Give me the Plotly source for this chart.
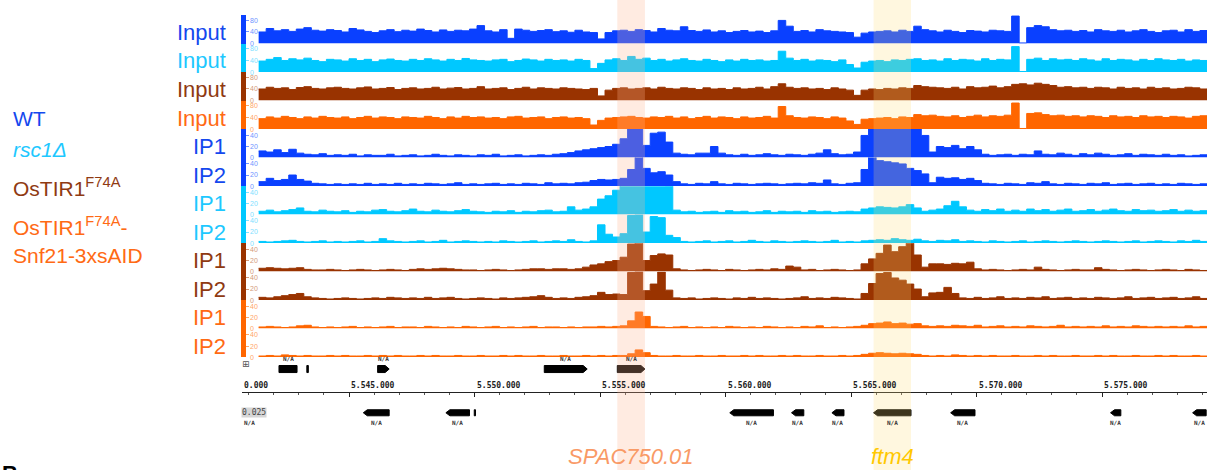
import plotly.graph_objects as go

# ---------------- data ----------------
BIN_START = 5541400
BIN_STEP = 300
N_BINS = 127
positions = [BIN_START + BIN_STEP * i for i in range(N_BINS)]

wt_input = [40,52,44,48,42,50,55,46,43,48, 45,40,52,47,42,38,44,48,41,46,
            43,50,45,40,47,42,46,44,50,62, 44,40,48,18,50,46,42,45,48,41,
            44,39,46,40,38,16,38,44,46,42, 48,45,40,52,46,44,58,45,42,47,
            40,44,38,42,45,40,43,38,44,80, 60,42,45,40,48,44,42,40,38,22,
            36,40,42,44,40,46,42,60,48,44, 40,46,42,38,45,43,40,46,44,42,
            95,2,55,62,58,48,44,46,42,45, 40,48,44,42,46,40,44,48,42,38,
            44,46,40,48,42,45,40]
rsc1_input = [38,44,50,40,46,42,48,40,36,44, 42,38,46,40,44,36,42,45,40,38,
              44,40,46,42,38,44,40,47,42,40, 38,42,44,36,40,45,42,38,44,40,
              42,38,44,40,12,30,42,46,40,54, 44,48,40,44,38,42,46,40,38,44,
              40,36,42,38,44,40,42,38,40,72, 48,40,44,38,42,40,36,42,26,14,
              34,38,40,36,42,40,44,46,40,42, 38,46,40,44,42,38,46,40,44,42,
              88,2,44,48,40,46,42,44,40,46, 42,38,46,40,44,42,38,44,40,46,
              42,40,44,38,42,40,38]
ostir_input = [40,46,42,44,38,45,48,42,40,44, 46,42,40,44,47,40,42,45,38,42,
               44,40,42,46,40,43,45,40,42,48, 40,42,44,38,42,46,40,44,42,40,
               44,42,40,38,42,16,36,42,44,40, 42,44,40,46,42,40,44,42,38,44,
               40,42,38,44,40,42,46,40,48,58, 46,42,44,40,42,38,44,40,36,18,
               36,40,38,42,40,44,42,52,48,46, 44,42,46,40,48,44,46,50,44,48,
               56,58,54,60,56,52,46,48,44,46, 42,46,44,40,46,42,44,40,46,42,
               44,40,42,46,44,40,42]
snf21_input = [36,42,38,44,40,36,42,38,44,40, 38,42,36,40,44,38,42,40,36,42,
               40,38,44,40,36,42,38,44,40,42, 38,40,36,42,44,38,40,42,36,40,
               42,38,40,36,14,30,38,40,42,44, 40,38,42,40,44,38,42,36,40,44,
               38,42,40,36,42,38,40,44,38,78, 46,40,38,42,40,36,42,38,28,16,
               34,36,38,40,36,42,40,50,46,48, 44,42,46,40,44,48,42,46,44,48,
               90,2,54,56,50,46,48,44,46,42, 46,44,40,46,42,44,40,46,42,44,
               40,44,42,38,44,46,42]
wt_ip1 = [12,10,14,9,15,8,6,5,7,4, 5,4,6,3,5,4,4,6,3,4,
          5,3,4,6,4,3,5,4,3,5, 4,6,3,4,5,3,4,5,4,6,
          7,9,12,14,16,18,20,24,34,55, 56,22,44,46,28,8,6,5,8,8,
          20,8,5,4,6,4,5,7,5,4, 6,5,4,6,8,14,7,5,6,10,
          40,56,56,56,56,56,56,56,40,10, 20,18,22,16,20,14,6,4,5,6,
          4,6,5,12,6,5,8,6,4,7, 5,8,6,4,5,7,4,6,5,4,
          6,4,5,3,4,5,4]
wt_ip2 = [8,14,10,12,20,12,9,5,4,3, 4,3,4,3,5,3,4,3,5,3,
          4,3,5,4,3,4,6,3,4,3, 4,5,3,4,3,5,4,3,6,4,
          5,4,6,7,10,12,11,12,14,30, 54,32,24,26,20,8,4,3,5,4,
          8,4,3,5,4,3,4,5,4,3, 4,5,4,6,5,11,4,3,5,6,
          30,56,46,44,42,40,32,28,22,6, 16,14,15,12,14,10,5,4,3,5,
          4,3,6,5,8,4,3,5,4,3, 5,4,6,3,4,5,3,4,5,3,
          4,3,5,4,3,4,3]
rsc1_ip1 = [6,8,5,7,9,12,6,5,8,6, 5,7,4,6,5,8,9,6,5,7,
            10,6,5,8,6,5,7,9,6,5, 4,6,5,7,4,6,5,7,8,5,
            6,14,8,10,14,28,34,44,56,56, 56,56,56,56,52,8,5,6,4,5,
            6,4,7,5,6,4,5,7,4,6, 5,6,4,7,5,6,4,5,6,5,
            10,12,14,13,12,14,18,12,6,8, 10,16,24,14,8,6,9,7,10,6,
            8,6,10,7,9,6,8,10,6,7, 9,6,8,10,7,6,9,7,8,6,
            7,9,6,8,6,7,5]
rsc1_ip2 = [3,2,3,4,5,3,2,3,4,2, 3,2,3,4,2,3,8,4,3,2,
            3,4,2,3,5,2,3,4,3,2, 3,2,4,3,2,3,4,2,3,4,
            3,6,3,2,4,33,16,11,17,50, 52,20,48,46,14,10,3,2,3,4,
            2,3,4,2,3,5,3,2,4,3, 2,3,4,3,2,3,5,2,3,2,
            4,5,6,5,8,6,5,7,4,3, 5,4,6,3,4,3,2,4,3,2,
            3,4,2,3,4,3,2,3,4,3, 2,3,4,3,2,3,4,2,3,4,
            3,2,4,3,5,3,2]
ostir_ip1 = [6,7,6,5,6,7,4,3,3,4, 3,2,3,4,3,2,3,4,3,2,
             4,5,4,5,6,5,4,3,3,2, 3,4,3,2,3,4,5,5,4,5,
             5,4,5,8,12,14,18,20,26,50, 54,20,29,32,30,5,3,2,3,4,
             3,2,4,3,2,3,4,3,5,4, 10,8,3,4,2,3,4,3,2,3,
             14,23,33,48,36,45,52,30,8,14, 14,13,15,14,17,5,3,4,3,2,
             3,4,3,8,4,3,2,3,4,3, 3,7,4,3,2,3,4,3,2,3,
             4,3,2,4,3,2,3]
ostir_ip2 = [5,4,6,8,10,12,6,4,3,2, 3,4,3,2,3,4,3,5,4,3,
             4,3,5,3,4,5,3,2,3,4, 3,2,4,3,4,5,6,8,5,3,
             4,3,5,6,8,14,10,11,10,50, 52,17,29,51,18,4,3,4,2,3,
             4,3,2,4,3,5,3,4,3,2, 3,4,6,3,4,3,5,4,3,2,
             12,30,48,50,40,36,29,20,6,13, 14,23,12,4,3,5,3,4,6,3,
             4,3,5,4,6,3,4,5,3,4, 3,5,4,3,4,6,3,4,5,3,
             4,5,3,4,6,3,4]
snf21_ip1 = [3,4,3,2,3,5,6,3,2,3, 2,3,4,2,3,2,3,4,2,3,
             3,2,4,3,2,3,2,4,3,2, 3,4,2,3,2,3,4,2,3,3,
             2,3,2,3,3,4,3,4,5,14, 30,22,4,3,2,3,4,2,3,2,
             3,2,4,3,2,3,2,4,3,2, 3,2,4,3,5,2,3,2,3,4,
             6,9,10,12,9,10,8,9,5,4, 5,4,6,5,4,6,3,4,5,3,
             4,3,5,4,3,4,6,3,4,3, 4,3,5,3,4,3,5,4,3,4,
             3,4,3,5,3,4,3]
snf21_ip2 = [2,3,2,4,3,2,3,2,2,3, 2,3,2,2,3,2,3,2,3,2,
             2,3,2,3,2,2,3,2,2,3, 2,2,3,2,3,2,2,3,2,2,
             3,2,2,3,2,3,2,3,3,6, 13,8,3,2,2,3,2,2,3,2,
             2,3,2,2,3,2,3,2,2,3, 2,3,2,2,3,2,2,3,2,3,
             5,7,8,7,6,7,6,5,3,2, 3,2,4,3,2,3,2,3,2,2,
             3,2,2,3,2,3,2,2,3,2, 2,3,2,3,2,2,3,2,2,3,
             2,3,2,2,3,2,2]

track_labels = ["Input", "Input", "Input", "Input", "IP1", "IP2", "IP1", "IP2", "IP1", "IP2", "IP1", "IP2"]
track_samples = ["wt", "rsc1", "ostir", "snf21", "wt", "wt", "rsc1", "rsc1", "ostir", "ostir", "snf21", "snf21"]
track_values = [wt_input, rsc1_input, ostir_input, snf21_input, wt_ip1, wt_ip2,
                rsc1_ip1, rsc1_ip2, ostir_ip1, ostir_ip2, snf21_ip1, snf21_ip2]
input_ticks = [0, 40, 80]
ip_ticks = [0, 20, 40]

axis_tick_pos = [5540000, 5545000, 5550000, 5555000, 5560000, 5565000, 5570000, 5575000]
axis_tick_labels = ["0.000", "5.545.000", "5.550.000", "5.555.000", "5.560.000",
                    "5.565.000", "5.570.000", "5.575.000"]

# genes: start, end, strand, row (0 = upper, 1 = lower), label
gene_start = [5542210, 5543320, 5546140, 5552780, 5555690,
              5545570, 5548860, 5549990, 5560170, 5562630, 5564240, 5565900,
              5568970, 5575340, 5578610]
gene_end = [5542930, 5543380, 5546600, 5554490, 5556790,
            5546600, 5549800, 5550040, 5561910, 5563120, 5564720, 5567390,
            5569940, 5575750, 5579150]
gene_strand = [".", ".", "+", "+", "+",
               "-", "-", ".", "-", "-", "-", "-", "-", "-", "-"]
gene_row = [0, 0, 0, 0, 0, 1, 1, 1, 1, 1, 1, 1, 1, 1, 1]
gene_label = ["N/A", "", "N/A", "N/A", "N/A",
              "N/A", "N/A", "", "N/A", "N/A", "N/A", "N/A", "N/A", "N/A", "N/A"]
extra_label_pos = [5541020]  # label of a feature left of view (lower row)

highlight_names = ["SPAC750.01", "ftm4"]
highlight_start = [5555690, 5565900]
highlight_end = [5556790, 5567390]

sample_names = ["WT", "<i>rsc1Δ</i>", "OsTIR1<sup>F74A</sup>",
                "OsTIR1<sup>F74A</sup>-", "Snf21-3xsAID"]
sample_name_keys = ["wt", "rsc1", "ostir", "snf21", "snf21"]

# ---------------- styling ----------------
W, H = 1210, 470
Y_CORR = 1.012
colors = {"wt": "#0a40ff", "rsc1": "#00c8ff", "ostir": "#993300", "snf21": "#ff6600"}
light = {"wt": "#7094ff", "rsc1": "#80e0ff", "ostir": "#d49a7a", "snf21": "#ffa66a"}
label_colors = {"wt": "#1448ee", "rsc1": "#1ec8ff", "ostir": "#8f3a12", "snf21": "#ff6a14"}
hl_fill = ["rgba(255,180,145,0.27)", "rgba(255,222,120,0.24)"]
hl_text = ["#f99a66", "#ffc800"]
FONT = "Liberation Sans, Arial, sans-serif"
MONO = "DejaVu Sans Mono, monospace"


def px_x(x):
    return x / W


def px_y(y):
    return 1 - y * Y_CORR / H


BP_PER_PX = 5000 / 125.5
X0_BP_PX = 223.5  # pixel of 5,540,000
x_range = [5540000 + (242 - X0_BP_PX) * BP_PER_PX, 5540000 + (1207 - X0_BP_PX) * BP_PER_PX]

TRACK0_BASE = 43.3
PITCH = 28.35
TRACK_H = 28.3

fig = go.Figure()
layout = {}
annotations = []
shapes = []

for i, (lab, s, vals) in enumerate(zip(track_labels, track_samples, track_values)):
    base = TRACK0_BASE + PITCH * i
    top = base - TRACK_H
    is_input = lab == "Input"
    yref = "y" if i == 0 else f"y{i + 1}"
    yname = "yaxis" if i == 0 else f"yaxis{i + 1}"
    c = colors[s]
    fig.add_trace(go.Scatter(x=positions, y=vals, xaxis="x", yaxis=yref, mode="lines",
                             fill="tozeroy", fillcolor=c, line=dict(color=c, width=1, shape="hv"),
                             hoverinfo="skip", showlegend=False))
    ticks = input_ticks if is_input else ip_ticks
    rng = ticks[-1] * TRACK_H / (23.0 if is_input else 22.0)
    layout[yname] = dict(domain=[px_y(base), px_y(top)], range=[0, rng], anchor="free",
                         position=px_x(242.5), showline=True, linecolor=c, linewidth=5,
                         ticks="inside", ticklen=3, tickcolor=light[s], tickwidth=1,
                         tickvals=ticks, ticktext=[str(t) for t in ticks],
                         ticklabelposition="inside", ticklabeloverflow="allow",
                         tickfont=dict(size=7, color=light[s], family=FONT),
                         showgrid=False, zeroline=False, fixedrange=True)
    annotations.append(dict(x=px_x(228), y=px_y(base - 11), xref="paper", yref="paper",
                            xanchor="right", yanchor="middle", showarrow=False, text=lab,
                            font=dict(size=22, color=label_colors[s], family=FONT)))

layout["xaxis"] = dict(domain=[px_x(242), px_x(1207)], range=x_range, anchor="free",
                       position=px_y(389.5), showline=True, linecolor="#222", linewidth=1.5,
                       ticks="outside", ticklen=4, tickcolor="#222", tickwidth=1,
                       tickmode="linear", tick0=5540000, dtick=5000, showticklabels=False,
                       showgrid=False, zeroline=False, fixedrange=True,
                       minor=dict(ticks="outside", ticklen=2, dtick=1000, tick0=5540000,
                                  tickcolor="#555", showgrid=False))

for t, lab in zip(axis_tick_pos, axis_tick_labels):
    annotations.append(dict(x=max(t, x_range[0]), y=px_y(383), xref="x", yref="paper",
                            xanchor="left", yanchor="middle", showarrow=False,
                            text=f"<b>{lab}</b>", font=dict(size=8, color="#222", family=MONO)))

# genes
row_center = [367, 410.5]
row_half = [3.5, 3.0]
label_y = [357, 420]
arrow = 4 * BP_PER_PX
for s_, e_, st, row, lab in zip(gene_start, gene_end, gene_strand, gene_row, gene_label):
    yc = px_y(row_center[row])
    yt = px_y(row_center[row] - row_half[row])
    yb = px_y(row_center[row] + row_half[row])
    if st == "+":
        path = f"M{s_},{yt} L{e_ - arrow},{yt} L{e_},{yc} L{e_ - arrow},{yb} L{s_},{yb} Z"
    elif st == "-":
        path = f"M{e_},{yt} L{s_ + arrow},{yt} L{s_},{yc} L{s_ + arrow},{yb} L{e_},{yb} Z"
    else:
        path = f"M{s_},{yt} L{e_},{yt} L{e_},{yb} L{s_},{yb} Z"
    shapes.append(dict(type="path", path=path, xref="x", yref="paper",
                       fillcolor="#000", line=dict(color="#000", width=1)))
    if lab:
        annotations.append(dict(x=(s_ + e_) / 2, y=px_y(label_y[row]), xref="x", yref="paper",
                                xanchor="center", yanchor="middle",
                                showarrow=False, text=f"<b>{lab}</b>",
                                font=dict(size=6, color="#333", family=MONO)))
for p in extra_label_pos:
    annotations.append(dict(x=p, y=px_y(label_y[1]), xref="x", yref="paper", showarrow=False,
                            xanchor="center", yanchor="middle",
                            text="<b>N/A</b>", font=dict(size=6, color="#333", family=MONO)))

annotations.append(dict(x=px_x(241), y=px_y(410.5), xref="paper", yref="paper", xanchor="left",
                        yanchor="middle",
                        showarrow=False, text="0.025", bgcolor="#d6d6d6", borderpad=0,
                        font=dict(size=8, color="#444", family=MONO)))
annotations.append(dict(x=px_x(246), y=px_y(362), xref="paper", yref="paper", showarrow=False,
                        xanchor="center", yanchor="middle",
                        text="⊞", font=dict(size=9, color="#555", family="DejaVu Sans")))

# highlight bands
for name, hs, he, fc, tc in zip(highlight_names, highlight_start, highlight_end, hl_fill, hl_text):
    shapes.append(dict(type="rect", xref="x", yref="paper", x0=hs, x1=he,
                       y0=px_y(468), y1=px_y(0), fillcolor=fc, line=dict(width=0), layer="above"))
    annotations.append(dict(x=(hs + he) / 2, y=px_y(454), xref="x", yref="paper",
                            xanchor="center", yanchor="middle",
                            showarrow=False, text=f"<i>{name}</i>",
                            font=dict(size=22, color=tc, family=FONT)))

# sample legend on the left
legend_y = [118, 149, 186, 224.5, 254.5]
for nm, k, yy in zip(sample_names, sample_name_keys, legend_y):
    annotations.append(dict(x=px_x(11), y=px_y(yy), xref="paper", yref="paper", xanchor="left",
                            yanchor="middle", showarrow=False, text=nm,
                            font=dict(size=21, color=label_colors[k], family=FONT)))

annotations.append(dict(x=px_x(0), y=px_y(456), xref="paper", yref="paper", xanchor="left",
                        yanchor="top", showarrow=False, text="<b>B</b>",
                        font=dict(size=22, color="#000", family=FONT)))

fig.update_layout(width=W, height=H, margin=dict(l=0, r=0, t=0, b=0),
                  paper_bgcolor="white", plot_bgcolor="white",
                  font=dict(family=FONT), showlegend=False,
                  annotations=annotations, shapes=shapes, **layout)

fig.write_html("out.html", config={"displayModeBar": False, "staticPlot": True})
